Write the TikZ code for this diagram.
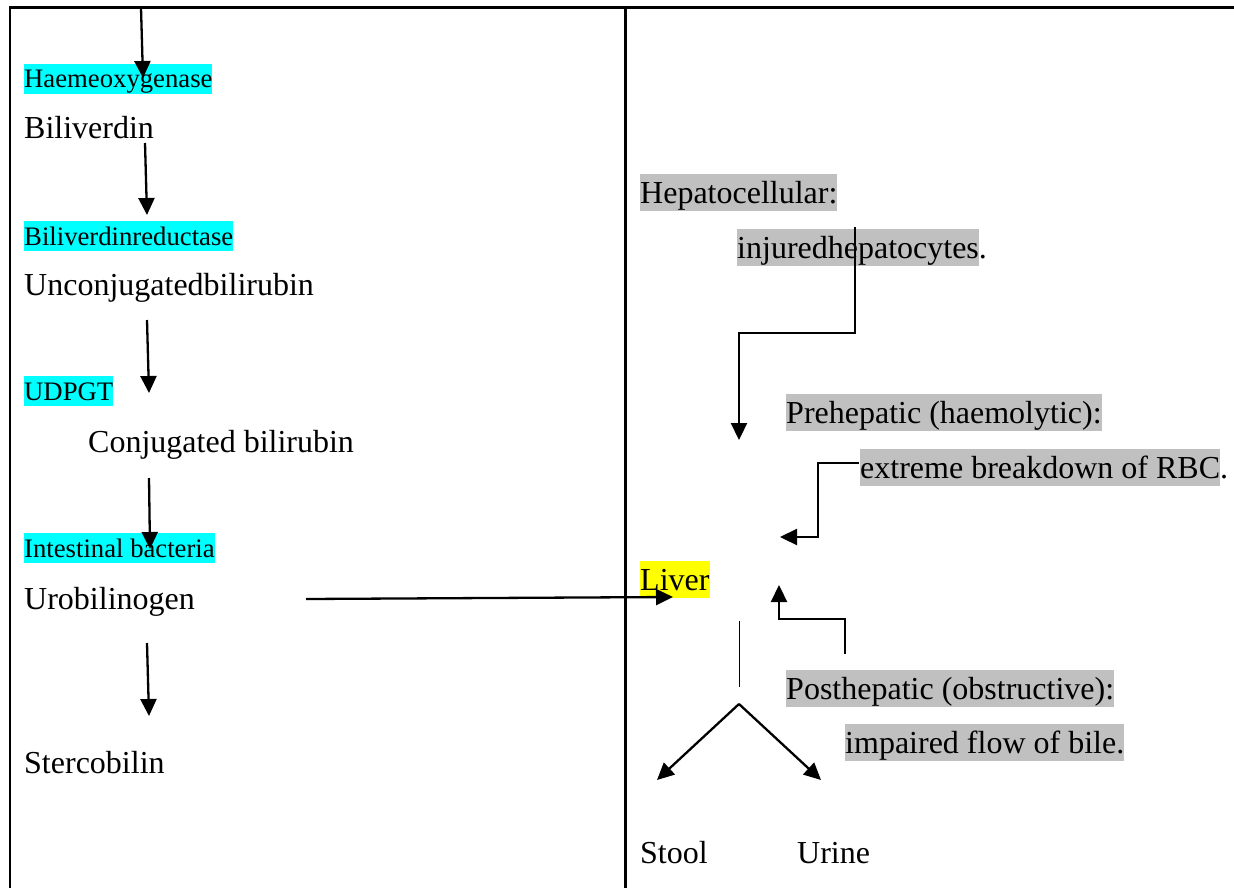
\documentclass[tikz,border=0pt]{standalone}
\usepackage{fontspec}
\setmainfont{Liberation Serif}
\usetikzlibrary{arrows.meta}
\definecolor{hlcyan}{HTML}{00FFFF}
\definecolor{hlgray}{HTML}{C0C0C0}
\definecolor{hlyellow}{HTML}{FFFF00}
\newcommand\hlt[2]{{\setlength{\fboxsep}{0pt}\colorbox{#1}{\vrule width 0pt height 0.9em depth 0.24em\relax #2}}}
\begin{document}
\begin{tikzpicture}[x=1pt,y=-1pt,
  big/.style={font=\fontsize{32}{38}\selectfont, anchor=base west, inner sep=0pt},
  small/.style={font=\fontsize{26.7}{32}\selectfont, anchor=base west, inner sep=0pt},
  arr/.style={line width=2.3pt, -{Triangle[width=16pt,length=17pt]}},
  frameline/.style={line width=2.3pt},
  thinline/.style={line width=1pt}]
\useasboundingbox (0,0) rectangle (1234,888);

% frame
\coordinate (fbl) at (10,888);
\coordinate (ftl) at (10,7.5);
\coordinate (ftr) at (1234,7.5);
\coordinate (dtop) at (625.5,7.5);
\coordinate (dbot) at (625.5,888);
\draw[frameline] (fbl) -- (ftl) -- (ftr);
\draw[frameline] (dtop) -- (dbot);

% left column texts
\node[small] (haem) at (24,88) {\hlt{hlcyan}{Haemeoxygenase}};
\node[big] (bv) at (24,139) {Biliverdin};
\node[small] (bvr) at (24,245) {\hlt{hlcyan}{Biliverdinreductase}};
\node[big] (ucb) at (24,295) {Unconjugatedbilirubin};
\node[small] (udpgt) at (24,400) {\hlt{hlcyan}{UDPGT}};
\node[big] (cb) at (88,452) {Conjugated bilirubin};
\node[small] (ib) at (24,557) {\hlt{hlcyan}{Intestinal bacteria}};
\node[big] (ubg) at (24,609) {Urobilinogen};
\node[big] (scb) at (24,773) {Stercobilin};

% right column texts
\node[big] (hep) at (640,203) {\hlt{hlgray}{Hepatocellular:}};
\node[big] (inj) at (737,258) {\hlt{hlgray}{injuredhepatocytes}.};
\node[big] (pre) at (786,423) {\hlt{hlgray}{Prehepatic (haemolytic):}};
\node[big] (ext) at (860,478) {\hlt{hlgray}{extreme breakdown of RBC}.};
\node[big] (liv) at (640,590) {\hlt{hlyellow}{Liver}};
\node[big] (post) at (786,699) {\hlt{hlgray}{Posthepatic (obstructive):}};
\node[big] (imp) at (845,753) {\hlt{hlgray}{impaired flow of bile.}};
\node[big] (stool) at (640,863) {Stool};
\node[big] (urine) at (797,863) {Urine};

% left column arrows
\coordinate (a1s) at (141,8);   \coordinate (a1e) at (143,78);
\coordinate (a2s) at (145,143); \coordinate (a2e) at (147,215);
\coordinate (a3s) at (147,320); \coordinate (a3e) at (149,393);
\coordinate (a4s) at (149,478); \coordinate (a4e) at (150,549);
\coordinate (a5s) at (147,643); \coordinate (a5e) at (149,716);
\draw[arr] (a1s) -- (a1e);
\draw[arr] (a2s) -- (a2e);
\draw[arr] (a3s) -- (a3e);
\draw[arr] (a4s) -- (a4e);
\draw[arr] (a5s) -- (a5e);

% urobilinogen to liver
\coordinate (hs) at (306,599);
\coordinate (he) at (673,597);
\draw[arr] (hs) -- (he);

% hepatocellular arrow
\coordinate (hp1) at (855,227);
\coordinate (hp2) at (855,333);
\coordinate (hp3) at (739,333);
\coordinate (hp4) at (739,440);
\draw[arr] (hp1) -- (hp2) -- (hp3) -- (hp4);

% prehepatic arrow
\coordinate (pr1) at (859,463);
\coordinate (pr2) at (818,463);
\coordinate (pr3) at (818,537);
\coordinate (pr4) at (780,537);
\draw[arr] (pr1) -- (pr2) -- (pr3) -- (pr4);

% posthepatic arrow
\coordinate (po1) at (845,654);
\coordinate (po2) at (845,619);
\coordinate (po3) at (779,619);
\coordinate (po4) at (779,585);
\draw[arr] (po1) -- (po2) -- (po3) -- (po4);

% thin line below liver
\coordinate (t1) at (739,621);
\coordinate (t2) at (739,687);
\draw[thinline] (t1) -- (t2);

% split to stool and urine
\coordinate (apex) at (739,704);
\coordinate (stt) at (657,780);
\coordinate (urt) at (821,780);
\draw[arr] (apex) -- (stt);
\draw[arr] (apex) -- (urt);
\end{tikzpicture}
\end{document}
